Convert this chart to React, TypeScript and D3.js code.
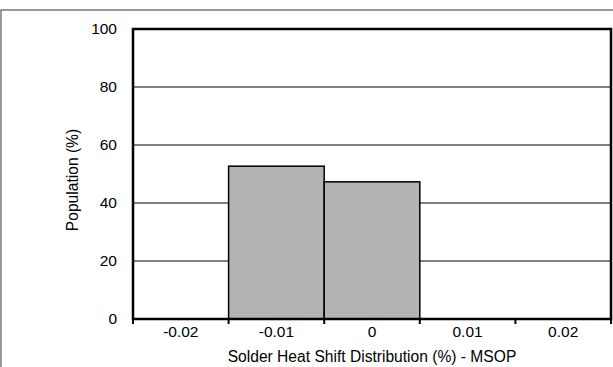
import React from "react";
import * as d3 from "d3";

const categories = ["-0.02", "-0.01", "0", "0.01", "0.02"];
const populations = [0, 52.7, 47.3, 0, 0];
const yTicks = [0, 20, 40, 60, 80, 100];
const xTitle = "Solder Heat Shift Distribution (%) - MSOP";
const yTitle = "Population (%)";

export default function App() {
  const W = 613, H = 367;
  const left = 133, right = 611, top = 29, bottom = 319;
  const x = d3.scaleBand<string>().domain(categories).range([left, right]).padding(0);
  const y = d3.scaleLinear().domain([0, 100]).range([bottom, top]);
  const font = "Liberation Sans, Arial, Helvetica, sans-serif";
  const boundaries = categories.map((c) => x(c)!).concat([right]);
  return (
    <svg width={W} height={H} style={{ position: "absolute", left: 0, top: 0, background: "#fff" }} fontFamily={font}>
      <rect x={1} y={10} width={W + 10} height={H + 10} fill="none" stroke="#555" strokeWidth={1.2} />
      {yTicks.filter((t) => t > 0 && t < 100).map((t) => (
        <line key={t} x1={left} x2={right} y1={y(t)} y2={y(t)} stroke="#000" strokeWidth={1} />
      ))}
      {categories.map((c, i) =>
        populations[i] > 0 ? (
          <rect key={c} x={x(c)!} y={y(populations[i])} width={x.bandwidth()} height={bottom - y(populations[i])}
            fill="#b3b3b3" stroke="#000" strokeWidth={1.5} />
        ) : null
      )}
      <rect x={left} y={top} width={right - left} height={bottom - top} fill="none" stroke="#000" strokeWidth={2.5} />
      {boundaries.map((b, i) => (
        <line key={i} x1={b} x2={b} y1={bottom} y2={bottom + 5} stroke="#000" strokeWidth={2} />
      ))}
      {yTicks.map((t) => (
        <text key={t} x={117} y={y(t)} dy="0.35em" textAnchor="end" fontSize={15.5} fill="#000">{t}</text>
      ))}
      {categories.map((c) => (
        <text key={c} x={x(c)! + x.bandwidth() / 2} y={337} textAnchor="middle" fontSize={15.5} fill="#000">{c}</text>
      ))}
      <text x={(left + right) / 2} y={362} textAnchor="middle" fontSize={15.6} fill="#000">{xTitle}</text>
      <text transform={`translate(78, 180) rotate(-90)`} textAnchor="middle" fontSize={15.6} fill="#000">{yTitle}</text>
    </svg>
  );
}
